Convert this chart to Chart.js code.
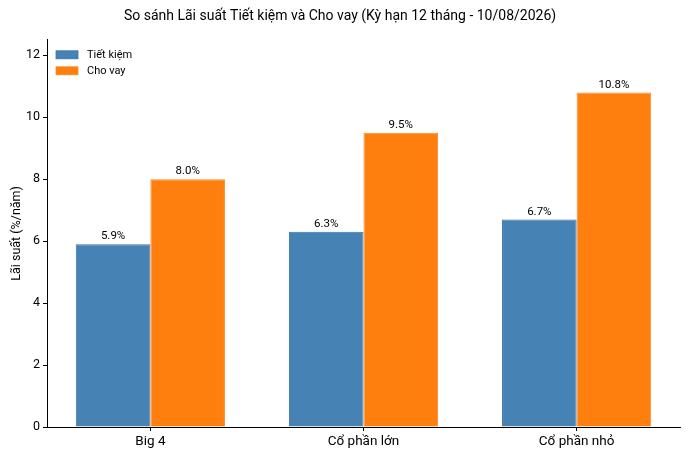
<!DOCTYPE html>
<html>
<head>
<meta charset="utf-8">
<script src="https://cdn.jsdelivr.net/npm/chart.js@4"></script>
<style>
html,body{margin:0;padding:0;background:#fff;}
#wrap{width:690px;height:457px;}
</style>
</head>
<body>
<div id="wrap"><canvas id="c"></canvas></div>
<script>
const categories = ['Big 4', 'Cổ phần lớn', 'Cổ phần nhỏ'];
const seriesNames = ['Tiết kiệm', 'Cho vay'];
const savings = [5.9, 6.3, 6.7];
const loans = [8.0, 9.5, 10.8];
const yTicks = [0, 2, 4, 6, 8, 10, 12];
const titleText = 'So sánh Lãi suất Tiết kiệm và Cho vay (Kỳ hạn 12 tháng - 10/08/2026)';
const yTitle = 'Lãi suất (%/năm)';

const FONT = 'Roboto, "Open Sans", sans-serif';

const valueLabels = {
  id: 'valueLabels',
  afterDatasetsDraw(chart) {
    const ctx = chart.ctx;
    ctx.save();
    ctx.font = '11.5px ' + FONT;
    ctx.fillStyle = '#000';
    ctx.textAlign = 'center';
    ctx.textBaseline = 'bottom';
    chart.data.datasets.forEach((ds, di) => {
      const meta = chart.getDatasetMeta(di);
      meta.data.forEach((bar, i) => {
        ctx.fillText(ds.data[i].y.toFixed(1) + '%', bar.x, bar.y - 2);
      });
    });
    ctx.restore();
  }
};

const innerLegend = {
  id: 'innerLegend',
  afterDraw(chart) {
    const ctx = chart.ctx;
    const a = chart.chartArea;
    ctx.save();
    ctx.font = '11px ' + FONT;
    ctx.textBaseline = 'middle';
    ctx.textAlign = 'left';
    chart.data.datasets.forEach((ds, i) => {
      const y = a.top + 15 + i * 16;
      const x = a.left + 9;
      ctx.fillStyle = ds.backgroundColor;
      ctx.fillRect(x, y - 4, 22, 8);
      ctx.strokeStyle = ds.borderColor;
      ctx.lineWidth = 0.8;
      ctx.strokeRect(x, y - 4, 22, 8);
      ctx.fillStyle = '#000';
      ctx.fillText(ds.label, x + 31, y);
    });
    ctx.restore();
  }
};

new Chart(document.getElementById('c'), {
  type: 'bar',
  data: {
    datasets: [
      {
        label: seriesNames[0],
        data: savings.map((v, i) => ({x: i, y: v})),
        backgroundColor: '#4682b4',
        borderColor: '#3a73a6',
        borderWidth: 1
      },
      {
        label: seriesNames[1],
        data: loans.map((v, i) => ({x: i, y: v})),
        backgroundColor: '#ff7f0e',
        borderColor: '#fb8a2a',
        borderWidth: 1
      }
    ]
  },
  options: {
    responsive: true,
    maintainAspectRatio: false,
    animation: false,
    devicePixelRatio: 1,
    categoryPercentage: 0.7,
    barPercentage: 1.0,
    layout: {padding: {left: 0, right: 10, top: 0, bottom: 0}},
    plugins: {
      legend: {display: false},
      tooltip: {enabled: false},
      title: {
        display: true,
        text: titleText,
        color: '#000',
        font: {family: FONT, size: 14, weight: 'normal'},
        padding: {top: 8, bottom: 15}
      }
    },
    scales: {
      x: {
        type: 'linear',
        min: -0.485,
        max: 2.485,
        offset: false,
        afterBuildTicks: s => { s.ticks = categories.map((c, i) => ({value: i})); },
        afterFit: s => { s.height = 30; },
        ticks: {
          color: '#000',
          font: {family: FONT, size: 13.5},
          padding: 3,
          maxRotation: 0,
          autoSkip: false,
          callback: v => categories[v]
        },
        grid: {display: true, offset: false, drawOnChartArea: false, drawTicks: true, tickLength: 4, color: '#000', lineWidth: 1},
        border: {display: true, color: '#000', width: 1}
      },
      y: {
        type: 'linear',
        min: 0,
        max: 12.5,
        afterBuildTicks: s => { s.ticks = yTicks.map(v => ({value: v})); },
        afterFit: s => { s.width = 47; },
        ticks: {
          color: '#000',
          font: {family: FONT, size: 12.5},
          padding: 3,
          callback: v => String(v)
        },
        title: {
          display: true,
          text: yTitle,
          color: '#000',
          font: {family: FONT, size: 12.5},
          padding: {top: 9, bottom: 0}
        },
        grid: {display: true, offset: false, drawOnChartArea: false, drawTicks: true, tickLength: 4, color: '#000', lineWidth: 1},
        border: {display: true, color: '#000', width: 1}
      }
    }
  },
  plugins: [valueLabels, innerLegend]
});
</script>
</body>
</html>
